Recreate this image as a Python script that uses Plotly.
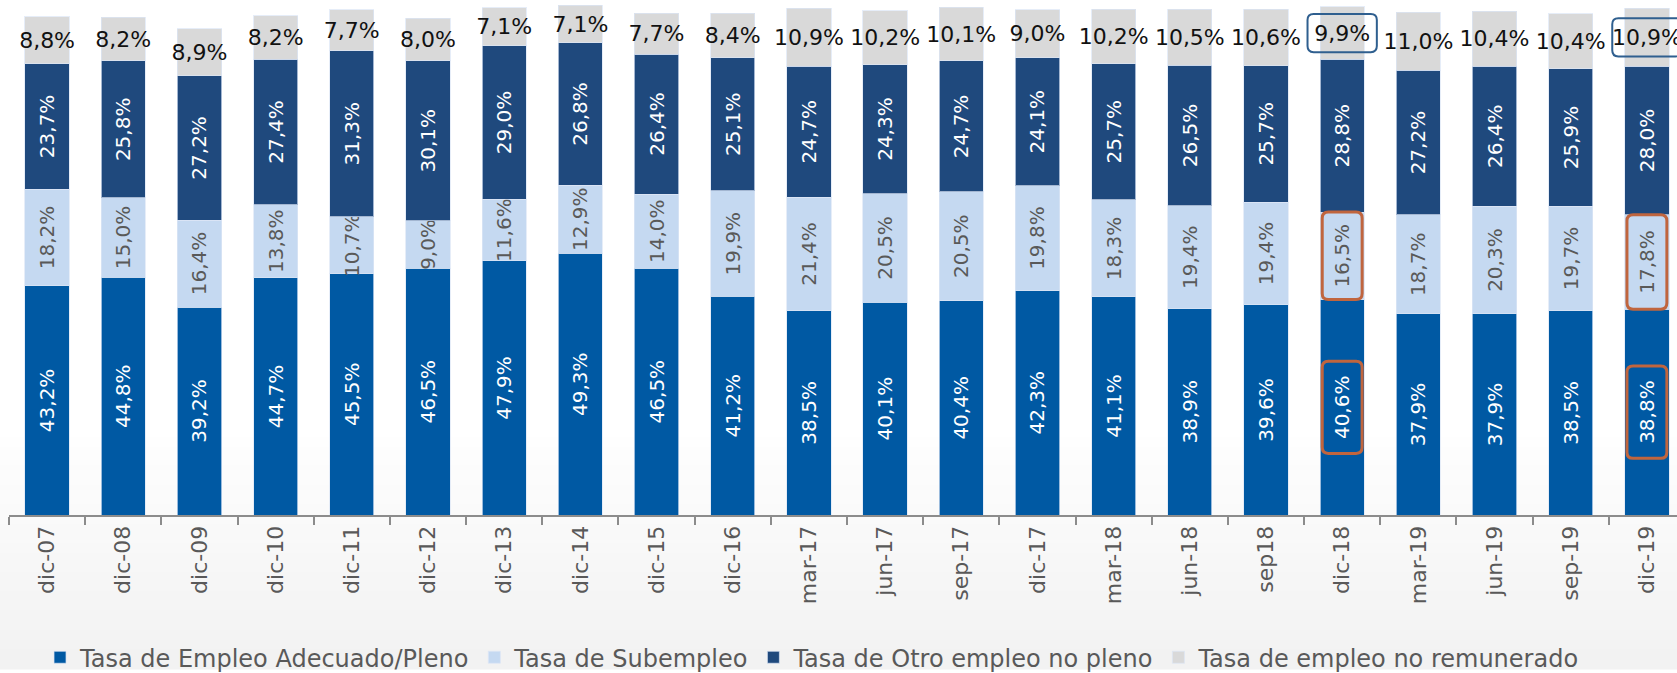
import plotly.graph_objects as go

categories = ["dic-07", "dic-08", "dic-09", "dic-10", "dic-11", "dic-12", "dic-13", "dic-14",
              "dic-15", "dic-16", "mar-17", "jun-17", "sep-17", "dic-17", "mar-18", "jun-18",
              "sep18", "dic-18", "mar-19", "jun-19", "sep-19", "dic-19"]
adecuado = [43.2, 44.8, 39.2, 44.7, 45.5, 46.5, 47.9, 49.3, 46.5, 41.2, 38.5, 40.1, 40.4, 42.3,
            41.1, 38.9, 39.6, 40.6, 37.9, 37.9, 38.5, 38.8]
subempleo = [18.2, 15.0, 16.4, 13.8, 10.7, 9.0, 11.6, 12.9, 14.0, 19.9, 21.4, 20.5, 20.5, 19.8,
             18.3, 19.4, 19.4, 16.5, 18.7, 20.3, 19.7, 17.8]
otro_no_pleno = [23.7, 25.8, 27.2, 27.4, 31.3, 30.1, 29.0, 26.8, 26.4, 25.1, 24.7, 24.3, 24.7, 24.1,
                 25.7, 26.5, 25.7, 28.8, 27.2, 26.4, 25.9, 28.0]
no_remunerado = [8.8, 8.2, 8.9, 8.2, 7.7, 8.0, 7.1, 7.1, 7.7, 8.4, 10.9, 10.2, 10.1, 9.0,
                 10.2, 10.5, 10.6, 9.9, 11.0, 10.4, 10.4, 10.9]
series_names = ["Tasa de Empleo Adecuado/Pleno", "Tasa de Subempleo",
                "Tasa de Otro empleo no pleno", "Tasa de empleo no remunerado"]
highlighted = ["dic-18", "dic-19"]

FONT = "DejaVu Sans"
colors = ["#0059a3", "#c5d9f1", "#1f497d", "#d9d9d9"]
text_colors = ["#ffffff", "#595959", "#ffffff", "#111111"]
angles = [-90, -90, -90, 0]
text_sizes = [20, 20, 20, 22]
series = [adecuado, subempleo, otro_no_pleno, no_remunerado]

fig = go.Figure()
for name, vals, col, tcol, ang, ts in zip(series_names, series, colors, text_colors, angles, text_sizes):
    fig.add_trace(go.Bar(
        x=categories, y=vals, name=name,
        marker=dict(color=col, line=dict(color="rgba(220,230,245,0.7)", width=1)),
        texttemplate="%{y:.1f}%", textposition="inside", insidetextanchor="middle",
        textangle=ang, constraintext="none", cliponaxis=False,
        insidetextfont=dict(family=FONT, size=ts, color=tcol),
        hoverinfo="skip",
    ))

# soft grey gradient towards the bottom of the picture
shapes = []
nb = 24
for i in range(nb):
    y0 = 0.15 - i * (0.45 / nb)
    y1 = y0 - 0.45 / nb
    g = int(255 - 13 * (i + 1) / nb)
    shapes.append(dict(type="rect", xref="paper", yref="paper", x0=-0.006, x1=1,
                       y0=y1, y1=y0 + 0.002, fillcolor=f"rgb({g},{g},{g})",
                       line=dict(width=0), layer="below"))


def rounded(x0, x1, y0, y1, rx, ry):
    return (f"M{x0+rx},{y0} L{x1-rx},{y0} Q{x1},{y0} {x1},{y0+ry} L{x1},{y1-ry} "
            f"Q{x1},{y1} {x1-rx},{y1} L{x0+rx},{y1} Q{x0},{y1} {x0},{y1-ry} "
            f"L{x0},{y0+ry} Q{x0},{y0} {x0+rx},{y0} Z")


rx, ry = 0.08, 1.15
for cat in highlighted:
    i = categories.index(cat)
    a, s, o, n = adecuado[i], subempleo[i], otro_no_pleno[i], no_remunerado[i]
    cg = a + s + o + n / 2
    shapes.append(dict(type="path", xref="x", yref="y",
                       path=rounded(i - 0.455, i + 0.455, cg - 3.6, cg + 3.6, rx, ry),
                       line=dict(color="#2f5f8f", width=2), layer="above"))
    shapes.append(dict(type="path", xref="x", yref="y",
                       path=rounded(i - 0.262, i + 0.262, a, a + s, rx, ry),
                       line=dict(color="#c0653e", width=3), layer="above"))
    ca = a / 2
    shapes.append(dict(type="path", xref="x", yref="y",
                       path=rounded(i - 0.262, i + 0.262, ca - 8.7, ca + 8.7, rx, ry),
                       line=dict(color="#c0653e", width=3), layer="above"))

fig.update_layout(
    width=1677, height=673,
    margin=dict(l=9, r=0, t=0, b=158, autoexpand=False),
    barmode="stack", bargap=0.419,
    separators=",.",
    paper_bgcolor="#ffffff", plot_bgcolor="rgba(0,0,0,0)",
    font=dict(family=FONT, color="#595959"),
    showlegend=True,
    legend=dict(orientation="h", x=0.0186, xanchor="left", y=-0.277, yanchor="middle",
                font=dict(family=FONT, size=24, color="#595959"),
                bgcolor="rgba(0,0,0,0)", traceorder="normal"),
    shapes=shapes,
    xaxis=dict(type="category", range=[-0.5, 21.395], tickson="boundaries",
               ticks="outside", ticklen=8, tickwidth=2, tickcolor="#8c8c8c",
               showline=True, linecolor="#8c8c8c", linewidth=2,
               tickangle=-90, tickfont=dict(family=FONT, size=22, color="#595959"),
               showgrid=False, zeroline=False, fixedrange=True, automargin=False),
    yaxis=dict(visible=False, range=[0, 97.08], showgrid=False, zeroline=False,
               automargin=False, fixedrange=True),
)

fig.write_html("out.html", config={"displayModeBar": False, "staticPlot": True},
               post_script="document.body.style.margin='0';document.body.style.overflow='hidden';")
